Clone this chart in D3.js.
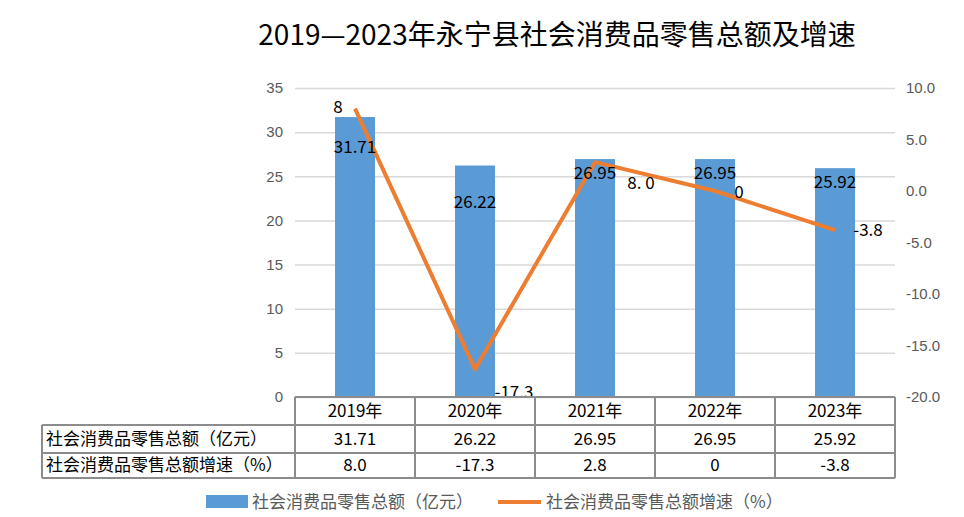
<!DOCTYPE html>
<html>
<head>
<meta charset="utf-8">
<script src="https://cdn.jsdelivr.net/npm/d3@7"></script>
<style>
  body { margin: 0; background: #fff; }
  svg { display: block; font-family: "Noto Sans CJK SC", "Noto Sans", sans-serif; }
</style>
</head>
<body>
<svg id="chart" width="964" height="517"></svg>
<script>
// Données
const years = ["2019年", "2020年", "2021年", "2022年", "2023年"];
const salesValues = [31.71, 26.22, 26.95, 26.95, 25.92];
const growthValues = [8.0, -17.3, 2.8, 0, -3.8];

// Étiquettes telles qu'affichées sur le graphique
const salesLabels = ["31.71", "26.22", "26.95", "26.95", "25.92"];
const growthLabels = ["8", "-17.3", "8. 0", "0", "-3.8"];
const tableGrowthText = ["8.0", "-17.3", "2.8", "0", "-3.8"];

const leftTicks = [0, 5, 10, 15, 20, 25, 30, 35];
const rightTicks = [10, 5, 0, -5, -10, -15, -20];

const salesName = "社会消费品零售总额（亿元）";
const growthName = "社会消费品零售总额增速（%）";
const title = "2019—2023年永宁县社会消费品零售总额及增速";

// Décalages des étiquettes (déplacées à la main dans l'original)
const salesLabelDy = [30, 37, 14, 14, 14];
const growthLabelNudge = [[-17, -2], [39, 23], [46, 21], [24, 1], [33, 0]];

const width = 964;
const height = 517;
const margin = { top: 88, right: 69, bottom: 120, left: 295 };
const plotRight = width - margin.right;
const plotBottom = height - margin.bottom;

const svg = d3.select("#chart");

const x = d3.scaleBand().domain(years).range([margin.left, plotRight]);
const yL = d3.scaleLinear([0, 35], [plotBottom, margin.top]);
const yR = d3.scaleLinear([-20, 10], [plotBottom, margin.top]);

const barW = x.bandwidth() / 3;
const axisGrey = "#595959";

// Titre
svg.append("text")
  .attr("x", 557)
  .attr("y", 35)
  .attr("dy", "0.35em")
  .attr("text-anchor", "middle")
  .style("font-size", "28px")
  .attr("fill", "#000")
  .text(title);

// Quadrillage
svg.append("g")
  .attr("transform", `translate(${margin.left},0)`)
  .call(d3.axisLeft(yL).tickValues(leftTicks).tickSize(-(plotRight - margin.left)).tickFormat(""))
  .call((g) => g.select(".domain").remove())
  .call((g) => g.selectAll(".tick line").attr("stroke", "#d9d9d9").attr("stroke-width", 1.5));

// Axe gauche
svg.append("g")
  .attr("transform", `translate(${margin.left},0)`)
  .call(d3.axisLeft(yL).tickValues(leftTicks).tickSize(0).tickPadding(12))
  .call((g) => g.select(".domain").remove())
  .call((g) => g.selectAll("text").attr("fill", axisGrey).style("font-size", "15px").style("font-family", "'Liberation Sans', sans-serif"));

// Axe droit
svg.append("g")
  .attr("transform", `translate(${plotRight},0)`)
  .call(d3.axisRight(yR).tickValues(rightTicks).tickSize(0).tickPadding(11).tickFormat((d) => d.toFixed(1)))
  .call((g) => g.select(".domain").remove())
  .call((g) => g.selectAll("text").attr("fill", axisGrey).style("font-size", "15px").style("font-family", "'Liberation Sans', sans-serif"));

// Barres
svg.append("g")
  .selectAll("rect")
  .data(salesValues)
  .join("rect")
  .attr("fill", "#5b9bd5")
  .attr("x", (d, i) => x(years[i]) + barW)
  .attr("width", barW)
  .attr("y", (d) => yL(d))
  .attr("height", (d) => yL(0) - yL(d));

// Courbe
const line = d3.line()
  .x((d, i) => x(years[i]) + x.bandwidth() / 2)
  .y((d) => yR(d));

svg.append("path")
  .datum(growthValues)
  .attr("fill", "none")
  .attr("stroke", "#ed7d31")
  .attr("stroke-width", 4)
  .attr("stroke-linejoin", "round")
  .attr("d", line);

// Étiquettes des barres
svg.append("g")
  .style("font-size", "17px")
  .attr("text-anchor", "middle")
  .selectAll("text")
  .data(salesValues)
  .join("text")
  .attr("x", (d, i) => x(years[i]) + x.bandwidth() / 2)
  .attr("y", (d, i) => yL(d) + salesLabelDy[i])
  .attr("dy", "0.35em")
  .text((d, i) => salesLabels[i]);

// Étiquettes de la courbe
svg.append("g")
  .style("font-size", "17px")
  .attr("text-anchor", "middle")
  .selectAll("text")
  .data(growthValues)
  .join("text")
  .attr("x", (d, i) => x(years[i]) + x.bandwidth() / 2 + growthLabelNudge[i][0])
  .attr("y", (d, i) => yR(d) + growthLabelNudge[i][1])
  .attr("dy", "0.35em")
  .text((d, i) => growthLabels[i]);

// Tableau de données
const tableLeft = 42;
const rowEdges = [plotBottom, 425, 453, 478];
const tableRows = [
  { name: salesName, cells: salesValues.map((d) => d.toFixed(2)) },
  { name: growthName, cells: tableGrowthText },
];
const table = svg.append("g")
  .attr("stroke", "#8c8c8c")
  .attr("stroke-width", 2)
  .attr("fill", "none");

// Lignes horizontales
table.selectAll("line.h")
  .data(rowEdges)
  .join("line")
  .attr("class", "h")
  .attr("x1", (d, i) => (i === 0 ? margin.left : tableLeft))
  .attr("x2", plotRight)
  .attr("y1", (d) => d)
  .attr("y2", (d) => d);

// Lignes verticales
const colEdges = years.map((y) => x(y)).concat([plotRight]);
table.selectAll("line.v")
  .data(colEdges)
  .join("line")
  .attr("class", "v")
  .attr("x1", (d) => d)
  .attr("x2", (d) => d)
  .attr("y1", plotBottom)
  .attr("y2", rowEdges[3]);
table.append("line")
  .attr("x1", tableLeft)
  .attr("x2", tableLeft)
  .attr("y1", rowEdges[1])
  .attr("y2", rowEdges[3]);

const tableText = svg.append("g").style("font-size", "17px").attr("fill", "#000");

tableText.selectAll("text.year")
  .data(years)
  .join("text")
  .attr("class", "year")
  .attr("text-anchor", "middle")
  .attr("x", (d) => x(d) + x.bandwidth() / 2)
  .attr("y", (rowEdges[0] + rowEdges[1]) / 2)
  .attr("dy", "0.35em")
  .text((d) => d);

tableRows.forEach((row, r) => {
  const yc = (rowEdges[r + 1] + rowEdges[r + 2]) / 2;
  tableText.append("text")
    .attr("x", tableLeft + 4)
    .attr("y", yc)
    .attr("dy", "0.35em")
    .text(row.name);
  tableText.selectAll(`text.row${r}`)
    .data(row.cells)
    .join("text")
    .attr("class", `row${r}`)
    .attr("text-anchor", "middle")
    .attr("x", (d, i) => x(years[i]) + x.bandwidth() / 2)
    .attr("y", yc)
    .attr("dy", "0.35em")
    .text((d) => d);
});

// Légende
const legend = svg.append("g").style("font-size", "17px").attr("fill", axisGrey);
legend.append("rect")
  .attr("x", 206)
  .attr("y", 495)
  .attr("width", 42)
  .attr("height", 13)
  .attr("fill", "#5b9bd5");
legend.append("text")
  .attr("x", 252)
  .attr("y", 502)
  .attr("dy", "0.35em")
  .text(salesName);
legend.append("line")
  .attr("x1", 498)
  .attr("x2", 541)
  .attr("y1", 502)
  .attr("y2", 502)
  .attr("stroke", "#ed7d31")
  .attr("stroke-width", 4);
legend.append("text")
  .attr("x", 546)
  .attr("y", 502)
  .attr("dy", "0.35em")
  .text(growthName);
</script>
</body>
</html>
